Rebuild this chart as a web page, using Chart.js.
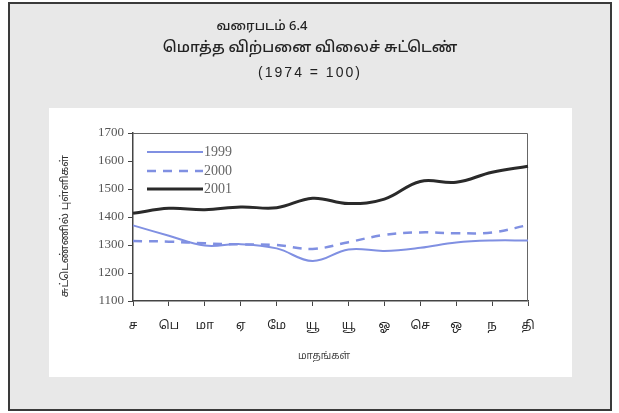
<!DOCTYPE html>
<html>
<head>
<meta charset="utf-8">
<script src="https://cdn.jsdelivr.net/npm/chart.js@4.4.1/dist/chart.umd.min.js"></script>
<style>
html,body{margin:0;padding:0;background:#fff;}
#wrap{width:619px;height:413px;position:relative;}
</style>
</head>
<body>
<div id="wrap"><canvas id="c" width="619" height="413"></canvas></div>
<script>
const months = ["ச","பெ","மா","ஏ","மே","யூ","யூ","ஓ","செ","ஒ","ந","தி"];
const y1999 = [1370,1333,1298,1303,1288,1243,1284,1279,1290,1309,1316,1316];
const y2000 = [1314,1312,1306,1302,1300,1286,1310,1336,1345,1342,1345,1371];
const y2001 = [1413,1431,1426,1436,1433,1467,1448,1464,1527,1524,1560,1581];
const seriesNames = ["1999","2000","2001"];
const yTicks = [1100,1200,1300,1400,1500,1600,1700];
const titleLines = ["வரைபடம் 6.4","மொத்த விற்பனை விலைச் சுட்டெண்","(1974 = 100)"];
const yTitle = "சுட்டெண்ணில் புள்ளிகள்";
const xTitle = "மாதங்கள்";

const TAMIL = '"Noto Sans Tamil","Latha","Lohit Tamil","Noto Sans","DejaVu Sans",sans-serif';
const SERIF = '"Liberation Serif","DejaVu Serif",serif';

const framePlugin = {
  id: 'frame',
  beforeDraw(chart) {
    const ctx = chart.ctx;
    ctx.save();
    ctx.fillStyle = '#ffffff';
    ctx.fillRect(0, 0, 619, 413);
    ctx.fillStyle = '#e8e8e8';
    ctx.fillRect(9, 3, 602, 407);
    ctx.fillStyle = '#ffffff';
    ctx.fillRect(49, 108, 523, 269);
    ctx.strokeStyle = '#3a3a3a';
    ctx.lineWidth = 2;
    ctx.strokeRect(9, 3, 602, 407);
    // titles
    ctx.fillStyle = '#222';
    ctx.textAlign = 'center';
    ctx.textBaseline = 'middle';
    ctx.font = '500 13px ' + TAMIL;
    ctx.fillText(titleLines[0], 262, 27);
    ctx.font = '500 15px ' + TAMIL;
    ctx.fillText(titleLines[1], 310, 49);
    ctx.font = '14px "Liberation Sans Narrow","Liberation Sans",sans-serif';
    if ('letterSpacing' in ctx) ctx.letterSpacing = '2px';
    ctx.fillText(titleLines[2], 310, 73);
    if ('letterSpacing' in ctx) ctx.letterSpacing = '0px';
    // x title
    ctx.fillStyle = '#444';
    ctx.font = '10px ' + TAMIL;
    ctx.fillText(xTitle, 324, 357);
    // y title
    ctx.fillStyle = '#333';
    ctx.font = '11px ' + TAMIL;
    ctx.translate(66, 226);
    ctx.rotate(-Math.PI / 2);
    ctx.fillText(yTitle, 0, 0);
    ctx.restore();
  },
  beforeDatasetsDraw(chart) {
    const a = chart.chartArea, ctx = chart.ctx;
    ctx.save();
    ctx.strokeStyle = '#666';
    ctx.lineWidth = 1;
    ctx.beginPath();
    ctx.moveTo(a.left, a.top + 0.5);
    ctx.lineTo(a.right - 0.5, a.top + 0.5);
    ctx.lineTo(a.right - 0.5, a.bottom);
    ctx.stroke();
    ctx.restore();
  },
  afterDraw(chart) {
    const a = chart.chartArea, ctx = chart.ctx;
    ctx.save();
    const rows = [152, 171, 189];
    chart.data.datasets.forEach((ds, i) => {
      ctx.strokeStyle = ds.borderColor;
      ctx.lineWidth = ds.borderWidth;
      ctx.setLineDash(ds.borderDash || []);
      ctx.beginPath();
      ctx.moveTo(a.left + 14, rows[i]);
      ctx.lineTo(a.left + 70, rows[i]);
      ctx.stroke();
      ctx.setLineDash([]);
      ctx.fillStyle = '#666';
      ctx.font = '14px ' + SERIF;
      ctx.textAlign = 'left';
      ctx.textBaseline = 'middle';
      ctx.fillText(ds.label, a.left + 71, rows[i]);
    });
    ctx.restore();
  }
};

new Chart(document.getElementById('c'), {
  type: 'line',
  data: {
    labels: months,
    datasets: [
      { label: seriesNames[0], data: y1999, borderColor: '#8090e2', borderWidth: 2, pointRadius: 0, tension: 0.4, fill: false },
      { label: seriesNames[1], data: y2000, borderColor: '#8090e2', borderWidth: 2.5, borderDash: [9, 7], pointRadius: 0, tension: 0.4, fill: false },
      { label: seriesNames[2], data: y2001, borderColor: '#2a2a2a', borderWidth: 3, pointRadius: 0, tension: 0.4, fill: false }
    ]
  },
  options: {
    responsive: false,
    animation: false,
    devicePixelRatio: 1,
    layout: { padding: { left: 56, right: 91, top: 133, bottom: 45 } },
    plugins: { legend: { display: false }, tooltip: { enabled: false }, title: { display: false } },
    scales: {
      x: {
        type: 'category',
        offset: false,
        afterFit(s) { s.height = 67; },
        grid: { drawOnChartArea: false, color: '#444', tickLength: 5, tickColor: '#444' },
        border: { color: '#444', width: 1.5 },
        ticks: { color: '#222', font: { family: TAMIL, size: 12 }, padding: 13, maxRotation: 0, autoSkip: false },
        title: { display: false }
      },
      y: {
        min: 1100, max: 1700,
        afterFit(s) { s.width = 77; },
        afterBuildTicks(s) { s.ticks = yTicks.map(v => ({ value: v })); },
        grid: { drawOnChartArea: false, color: '#444', tickLength: 5, tickColor: '#444' },
        border: { color: '#444', width: 1.5 },
        ticks: { color: '#555', font: { family: SERIF, size: 13 }, padding: 4, callback: v => String(v) },
        title: { display: false }
      }
    }
  },
  plugins: [framePlugin]
});
</script>
</body>
</html>
